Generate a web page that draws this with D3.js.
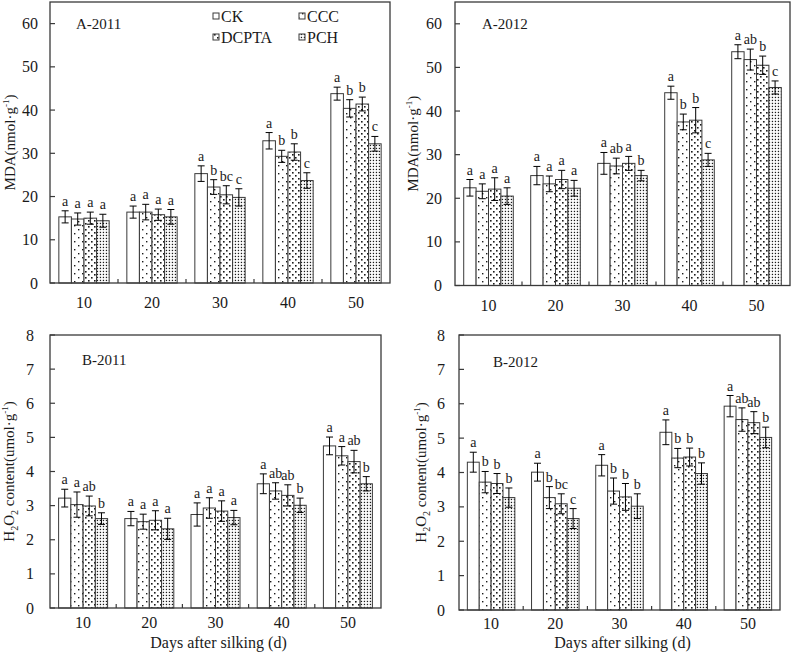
<!DOCTYPE html>
<html>
<head>
<meta charset="utf-8">
<script src="https://cdn.jsdelivr.net/npm/d3@7"></script>
<style>
  html, body { margin: 0; padding: 0; background: #fff; }
  svg { display: block; font-family: 'Liberation Serif', 'Times New Roman', serif; }
</style>
</head>
<body>
<div id="chart"></div>
<script>
// Days after silking and the four treatments
const days = ['10', '20', '30', '40', '50'];
const treatments = ['CK', 'CCC', 'DCPTA', 'PCH'];

// A-2011 MDA (nmol/g), one row per treatment
const mda2011Mean = [
  [15.3, 16.4, 25.3, 32.9, 43.8],
  [14.8, 16.4, 22.2, 29.3, 40.4],
  [15.0, 15.8, 20.4, 30.3, 41.4],
  [14.4, 15.3, 19.8, 23.7, 32.2]
];
const mda2011Err = [
  [1.4, 1.4, 1.8, 1.9, 1.5],
  [1.4, 1.8, 1.7, 1.4, 2.0],
  [1.4, 1.3, 2.1, 1.9, 1.6],
  [1.5, 1.7, 2.0, 1.8, 1.7]
];
const mda2011Letters = [
  ['a', 'a', 'a', 'a', 'a'],
  ['a', 'a', 'b', 'b', 'b'],
  ['a', 'a', 'bc', 'b', 'b'],
  ['a', 'a', 'c', 'c', 'c']
];

// A-2012 MDA
const mda2012Mean = [
  [22.4, 25.2, 28.0, 44.2, 53.6],
  [21.6, 23.3, 27.4, 37.5, 51.8],
  [22.1, 24.3, 28.0, 37.9, 50.5],
  [20.5, 22.3, 25.2, 28.8, 45.4]
];
const mda2012Err = [
  [1.9, 2.1, 2.5, 1.5, 1.6],
  [1.7, 1.8, 1.8, 1.8, 2.4],
  [2.6, 2.1, 1.6, 2.9, 2.1],
  [1.9, 1.8, 1.2, 1.5, 1.5]
];
const mda2012Letters = [
  ['a', 'a', 'a', 'a', 'a'],
  ['a', 'a', 'ab', 'b', 'ab'],
  ['a', 'a', 'a', 'b', 'b'],
  ['a', 'a', 'b', 'c', 'c']
];

// B-2011 H2O2 (umol/g)
const h2o22011Mean = [
  [3.22, 2.62, 2.74, 3.64, 4.75],
  [3.03, 2.53, 2.93, 3.43, 4.46],
  [2.99, 2.57, 2.84, 3.30, 4.29],
  [2.62, 2.32, 2.65, 3.01, 3.64]
];
const h2o22011Err = [
  [0.26, 0.21, 0.34, 0.29, 0.26],
  [0.37, 0.22, 0.30, 0.24, 0.27],
  [0.29, 0.28, 0.30, 0.31, 0.33],
  [0.17, 0.31, 0.21, 0.21, 0.21]
];
const h2o22011Letters = [
  ['a', 'a', 'a', 'a', 'a'],
  ['a', 'a', 'a', 'ab', 'a'],
  ['ab', 'a', 'a', 'ab', 'ab'],
  ['b', 'a', 'a', 'b', 'b']
];

// B-2012 H2O2
const h2o22012Mean = [
  [4.30, 4.01, 4.21, 5.17, 5.93],
  [3.72, 3.27, 3.46, 4.42, 5.54],
  [3.68, 3.09, 3.29, 4.45, 5.45],
  [3.27, 2.66, 3.02, 3.97, 5.02]
];
const h2o22012Err = [
  [0.29, 0.26, 0.31, 0.36, 0.31],
  [0.31, 0.32, 0.38, 0.28, 0.34],
  [0.29, 0.29, 0.39, 0.26, 0.32],
  [0.28, 0.29, 0.36, 0.31, 0.30]
];
const h2o22012Letters = [
  ['a', 'a', 'a', 'a', 'a'],
  ['b', 'b', 'b', 'b', 'ab'],
  ['b', 'bc', 'b', 'b', 'ab'],
  ['b', 'c', 'b', 'b', 'b']
];

const mdaTicks = [0, 10, 20, 30, 40, 50, 60];
const h2o2Ticks = [0, 1, 2, 3, 4, 5, 6, 7, 8];

const ink = '#1a1a1a';
const rule = '#3a3a3a';

const svg = d3.select('#chart').append('svg')
  .attr('width', 792).attr('height', 653);

// fill patterns per treatment
const defs = svg.append('defs');
const fills = ['#fff', 'url(#pCCC)', 'url(#pDCPTA)', 'url(#pPCH)'];

const pC = defs.append('pattern').attr('id', 'pCCC')
  .attr('patternUnits', 'userSpaceOnUse').attr('width', 8).attr('height', 8);
pC.append('rect').attr('width', 8).attr('height', 8).attr('fill', '#fff');
pC.append('rect').attr('x', 2).attr('y', 1).attr('width', 1.4).attr('height', 1.4).attr('fill', ink);
pC.append('rect').attr('x', 6).attr('y', 5).attr('width', 1.4).attr('height', 1.4).attr('fill', ink);

const pD = defs.append('pattern').attr('id', 'pDCPTA')
  .attr('patternUnits', 'userSpaceOnUse').attr('width', 6).attr('height', 6);
pD.append('rect').attr('width', 6).attr('height', 6).attr('fill', '#fff');
pD.append('rect').attr('x', 1).attr('y', 1).attr('width', 1.6).attr('height', 1.6).attr('fill', ink);
pD.append('rect').attr('x', 4).attr('y', 4).attr('width', 1.6).attr('height', 1.6).attr('fill', ink);

const pP = defs.append('pattern').attr('id', 'pPCH')
  .attr('patternUnits', 'userSpaceOnUse').attr('width', 3).attr('height', 3);
pP.append('rect').attr('width', 3).attr('height', 3).attr('fill', '#fff');
pP.append('rect').attr('x', 0.8).attr('y', 0.8).attr('width', 1.3).attr('height', 1.3).attr('fill', ink);

const panels = [
  { name: 'A-2011', left: 50, right: 390, top: 2, bottom: 283, max: 65, ticks: mdaTicks,
    mean: mda2011Mean, err: mda2011Err, letters: mda2011Letters,
    kind: 'mda', titleX: 15, tickGap: 12, xLabDy: 25, nameX: 76, nameY: 29, legend: true },
  { name: 'A-2012', left: 455, right: 790, top: 2, bottom: 285.5, max: 65, ticks: mdaTicks,
    mean: mda2012Mean, err: mda2012Err, letters: mda2012Letters,
    kind: 'mda', titleX: 418, tickGap: 13, xLabDy: 25, nameX: 482, nameY: 29 },
  { name: 'B-2011', left: 50, right: 381, top: 335, bottom: 608, max: 8, ticks: h2o2Ticks,
    mean: h2o22011Mean, err: h2o22011Err, letters: h2o22011Letters,
    kind: 'h2o2', titleX: 14, tickGap: 16, xLabDy: 20, nameX: 82, nameY: 365, xTitle: true },
  { name: 'B-2012', left: 459, right: 780, top: 335, bottom: 610, max: 8, ticks: h2o2Ticks,
    mean: h2o22012Mean, err: h2o22012Err, letters: h2o22012Letters,
    kind: 'h2o2', titleX: 426, tickGap: 14, xLabDy: 19, nameX: 493, nameY: 367, xTitle: true }
];

panels.forEach(p => {
  const g = svg.append('g');
  const x0 = d3.scaleBand().domain(days).range([p.left, p.right])
    .paddingInner(0.26).paddingOuter(0.13);
  const x1 = d3.scaleBand().domain(treatments).range([0, x0.bandwidth()]);
  const y = d3.scaleLinear().domain([0, p.max]).range([p.bottom, p.top]);

  // bars
  treatments.forEach((t, ti) => {
    const gb = g.append('g');
    gb.selectAll('rect').data(days).join('rect')
      .attr('x', d => x0(d) + x1(t))
      .attr('y', (d, i) => y(p.mean[ti][i]))
      .attr('width', x1.bandwidth())
      .attr('height', (d, i) => y(0) - y(p.mean[ti][i]))
      .attr('fill', fills[ti])
      .attr('stroke', rule).attr('stroke-width', 1);
  });

  // error bars + significance letters
  treatments.forEach((t, ti) => {
    days.forEach((d, i) => {
      const cx = x0(d) + x1(t) + x1.bandwidth() / 2;
      const hi = y(p.mean[ti][i] + p.err[ti][i]);
      const lo = y(p.mean[ti][i] - p.err[ti][i]);
      g.append('line').attr('x1', cx).attr('x2', cx).attr('y1', hi).attr('y2', lo)
        .attr('stroke', '#000').attr('stroke-width', 1);
      [hi, lo].forEach(yy => {
        g.append('line').attr('x1', cx - 3.5).attr('x2', cx + 3.5).attr('y1', yy).attr('y2', yy)
          .attr('stroke', '#000').attr('stroke-width', 1);
      });
      g.append('text').attr('x', cx).attr('y', hi - 5)
        .attr('text-anchor', 'middle').attr('font-size', 14).attr('fill', ink)
        .text(p.letters[ti][i]);
    });
  });

  // frame
  g.append('rect').attr('x', p.left).attr('y', p.top)
    .attr('width', p.right - p.left).attr('height', p.bottom - p.top)
    .attr('fill', 'none').attr('stroke', rule).attr('stroke-width', 1.3);

  // y ticks (inside) and labels
  p.ticks.forEach(v => {
    g.append('line').attr('x1', p.left).attr('x2', p.left + 5)
      .attr('y1', y(v)).attr('y2', y(v)).attr('stroke', rule).attr('stroke-width', 1.2);
    g.append('text').attr('x', p.left - p.tickGap).attr('y', y(v)).attr('dy', '0.35em')
      .attr('text-anchor', 'end').attr('font-size', 16).attr('fill', ink).text(v);
  });

  // x ticks at category boundaries and labels
  days.forEach((d, i) => {
    if (i > 0) {
      const bx = x0(d) - x0.step() * x0.paddingInner() / 2;
      g.append('line').attr('x1', bx).attr('x2', bx).attr('y1', p.bottom).attr('y2', p.bottom - 4)
        .attr('stroke', rule).attr('stroke-width', 1.2);
    }
    g.append('text').attr('x', x0(d) + x0.bandwidth() / 2).attr('y', p.bottom + p.xLabDy)
      .attr('text-anchor', 'middle').attr('font-size', 16).attr('fill', ink).text(d);
  });

  // panel name
  g.append('text').attr('x', p.nameX).attr('y', p.nameY)
    .attr('font-size', 15).attr('fill', ink).text(p.name);

  // y title
  const cy = (p.top + p.bottom) / 2;
  const yt = g.append('text')
    .attr('transform', `translate(${p.titleX},${cy}) rotate(-90)`)
    .attr('text-anchor', 'middle').attr('font-size', 15).attr('fill', ink);
  if (p.kind === 'mda') {
    yt.append('tspan').text('MDA(nmol·g');
    yt.append('tspan').attr('font-size', 9).attr('dy', -6).text('-1');
    yt.append('tspan').attr('dy', 6).text(')');
  } else {
    yt.append('tspan').text('H');
    yt.append('tspan').attr('font-size', 10).attr('dy', 4).text('2');
    yt.append('tspan').attr('dy', -4).text('O');
    yt.append('tspan').attr('font-size', 10).attr('dy', 4).text('2');
    yt.append('tspan').attr('dy', -4).text(' content(umol·g');
    yt.append('tspan').attr('font-size', 9).attr('dy', -6).text('-1');
    yt.append('tspan').attr('dy', 6).text(')');
  }

  if (p.xTitle) {
    g.append('text').attr('x', (p.left + p.right) / 2 + 3).attr('y', 648)
      .attr('text-anchor', 'middle').attr('font-size', 16).attr('fill', ink)
      .text('Days after silking (d)');
  }

  if (p.legend) {
    const lg = g.append('g');
    treatments.forEach((t, ti) => {
      const lx = 213 + (ti % 2) * 86;
      const ly = 13 + Math.floor(ti / 2) * 21;
      lg.append('rect').attr('x', lx).attr('y', ly).attr('width', 6).attr('height', 6)
        .attr('fill', fills[ti]).attr('stroke', rule).attr('stroke-width', 1);
      lg.append('text').attr('x', lx + 8).attr('y', ly + 9)
        .attr('font-size', 16).attr('fill', ink).text(t);
    });
  }
});
</script>
</body>
</html>
